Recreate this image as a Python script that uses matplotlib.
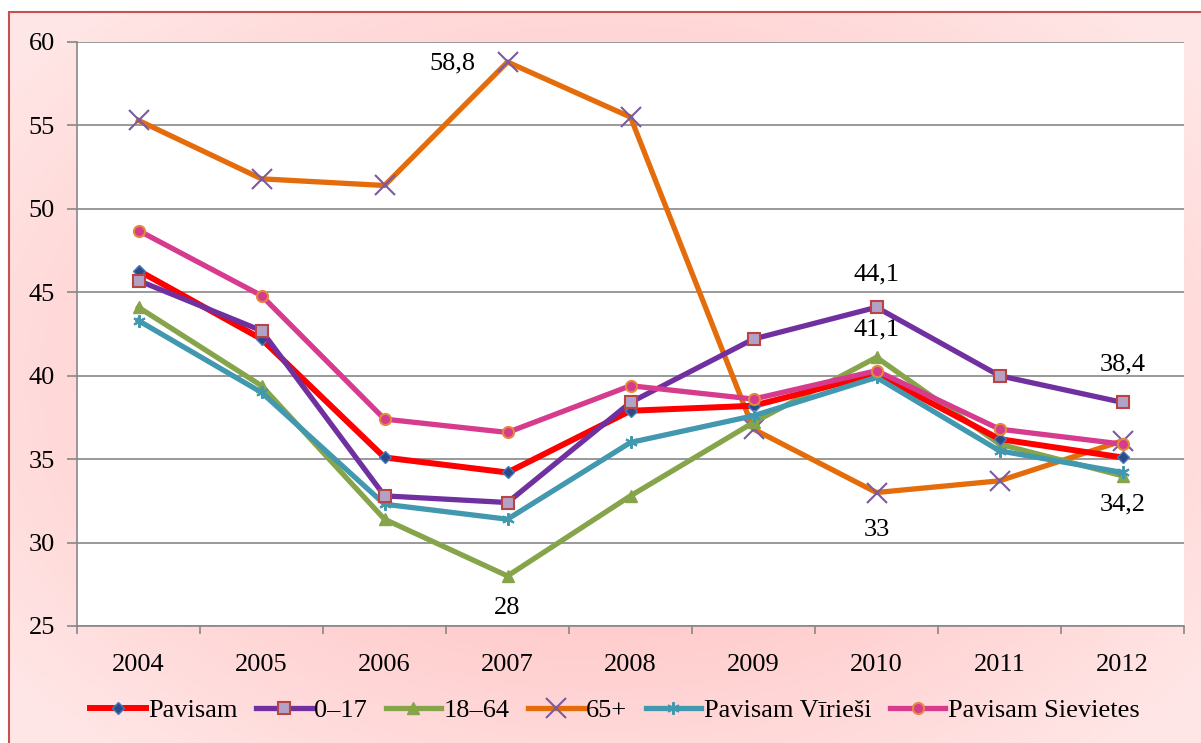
import matplotlib
matplotlib.use("Agg")
import matplotlib.pyplot as plt
import numpy as np
from matplotlib.patches import Rectangle

plt.rcParams['font.family'] = ['Liberation Serif', 'DejaVu Serif']

# Data
years = ['2004', '2005', '2006', '2007', '2008', '2009', '2010', '2011', '2012']
pavisam = [46.3, 42.2, 35.1, 34.2, 37.9, 38.2, 40.1, 36.2, 35.1]
age_0_17 = [45.7, 42.7, 32.8, 32.4, 38.4, 42.2, 44.1, 40.0, 38.4]
age_18_64 = [44.1, 39.4, 31.4, 28.0, 32.8, 37.2, 41.1, 35.9, 34.0]
age_65 = [55.3, 51.8, 51.4, 58.8, 55.5, 36.8, 33.0, 33.7, 36.1]
viriesi = [43.3, 39.0, 32.3, 31.4, 36.0, 37.6, 39.9, 35.5, 34.2]
sievietes = [48.7, 44.8, 37.4, 36.6, 39.4, 38.6, 40.3, 36.8, 35.9]

fig = plt.figure(figsize=(12.01, 7.43), dpi=100)

# pink radial background inside the frame
bg = fig.add_axes([9 / 1201, 0, 1 - 9 / 1201, 1 - 12 / 743], zorder=-10)
gx, gy = np.meshgrid(np.linspace(-1, 1, 300), np.linspace(-1, 1, 200))
r = np.clip(np.sqrt(gx ** 2 + (gy * 0.9) ** 2) / 1.25, 0, 1)
c0 = np.array([255, 180, 180]) / 255
c1 = np.array([255, 230, 230]) / 255
img = c0[None, None, :] * (1 - r[..., None]) + c1[None, None, :] * r[..., None]
bg.imshow(img, aspect='auto', extent=[0, 1, 0, 1])
bg.set_axis_off()
fig.patches.append(Rectangle((9 / 1201, -0.05), 1.0, 1.05 - 12 / 743,
                             transform=fig.transFigure, fill=False,
                             edgecolor='#c8504f', linewidth=1.5))

ax = fig.add_axes([77 / 1201, 1 - 626 / 743, (1184 - 77) / 1201, (626 - 42) / 743])
ax.set_facecolor('white')
x = np.arange(len(years))

ax.plot(x, pavisam, color='#ff0000', lw=4.3, marker='D', ms=6.5,
        mfc='#2e4a86', mec='#4a7ab8', label='Pavisam', zorder=4)
ax.plot(x, age_0_17, color='#7030a0', lw=3.8, marker='s', ms=8.5,
        mfc='#b3a2c7', mec='#b84444', mew=1.5, label='0–17', zorder=5)
ax.plot(x, age_18_64, color='#86a44a', lw=3.8, marker='^', ms=9,
        mfc='#86a44a', mec='#86a44a', label='18–64', zorder=3)
ax.plot(x, age_65, color='#e46c0a', lw=3.8, marker='x', ms=14,
        mec='#7a5ba0', mew=1.5, label='65+', zorder=2)
ax.plot(x, viriesi, color='#4198af', lw=3.8, marker=(6, 2, 0), ms=9,
        mec='#4198af', mew=1.5, label='Pavisam Vīrieši', zorder=4)
ax.plot(x, sievietes, color='#d63b8e', lw=3.8, marker='o', ms=8,
        mfc='#d63b8e', mec='#e4893c', mew=1.5, label='Pavisam Sievietes', zorder=6)

fs = 19
ax.annotate('58,8', (3, age_65[3]), xytext=(-40, -1), textcoords='offset points',
            ha='center', va='center', fontsize=fs)
ax.annotate('44,1', (6, age_0_17[6]), xytext=(0, 24), textcoords='offset points',
            ha='center', va='center', fontsize=fs)
ax.annotate('41,1', (6, age_18_64[6]), xytext=(0, 20), textcoords='offset points',
            ha='center', va='center', fontsize=fs)
ax.annotate('33', (6, age_65[6]), xytext=(0, -27), textcoords='offset points',
            ha='center', va='center', fontsize=fs)
ax.annotate('28', (3, age_18_64[3]), xytext=(0, -23), textcoords='offset points',
            ha='center', va='center', fontsize=fs)
ax.annotate('38,4', (8, age_0_17[8]), xytext=(0, 27), textcoords='offset points',
            ha='center', va='center', fontsize=fs)
ax.annotate('34,2', (8, viriesi[8]), xytext=(0, -23), textcoords='offset points',
            ha='center', va='center', fontsize=fs)

ax.set_xlim(-0.5, len(years) - 0.5)
ax.set_ylim(25, 60)
ax.set_yticks(np.arange(25, 61, 5))
ax.set_xticks(x)
ax.set_xticklabels(years)
ax.set_xticks(np.arange(-0.5, len(years), 1), minor=True)
ax.tick_params(axis='x', which='major', length=0, pad=20, labelsize=fs)
ax.tick_params(axis='x', which='minor', length=6, color='#878787', width=1.2)
ax.tick_params(axis='y', length=7, color='#878787', width=1.2, labelsize=fs, pad=9)
ax.grid(axis='y', color='#878787', lw=1.2)
ax.set_axisbelow(True)
for s in ['top', 'right']:
    ax.spines[s].set_visible(False)
for s in ['left', 'bottom']:
    ax.spines[s].set_color('#878787')
    ax.spines[s].set_linewidth(1.2)

fig.legend(loc='center', bbox_to_anchor=(0.512, 1 - 710 / 743), ncol=6,
           frameon=False, fontsize=fs, handlelength=2.1, handletextpad=0.1,
           columnspacing=0.7)

fig.savefig('out.png', dpi=100)
